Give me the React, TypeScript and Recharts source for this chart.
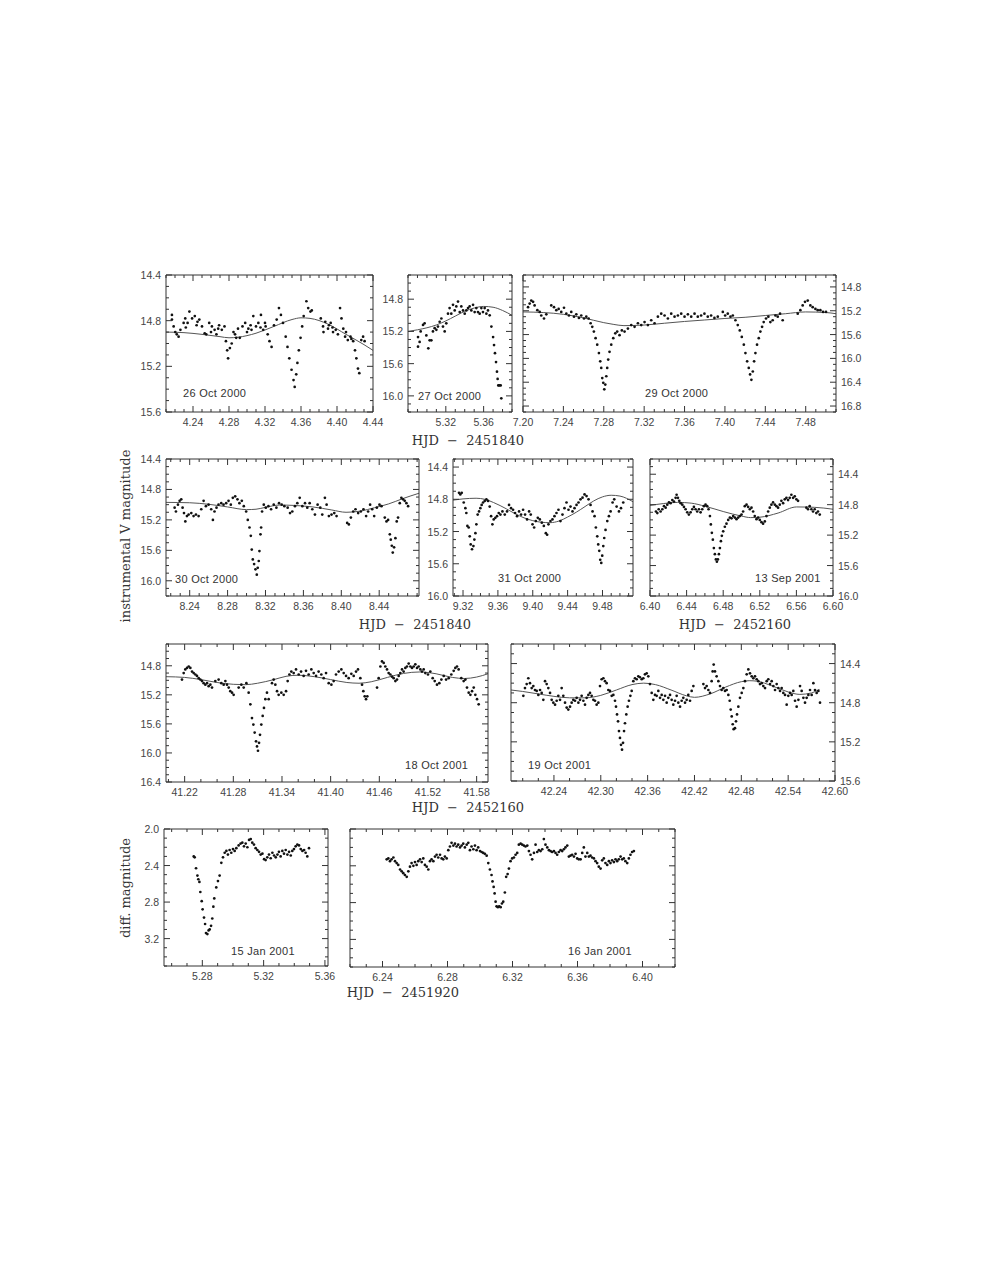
import React from 'react';
import { ComposedChart, Scatter, Line, XAxis, YAxis } from 'recharts';

type Pt = [number, number];

// ---- light curves (HJD offset, magnitude) ----
const oct26Pts: Pt[] = [
  [4.2166, 14.75], [4.2166, 14.79], [4.2185, 14.85], [4.2203, 14.9], [4.222, 14.92], [4.224, 14.94], [4.226, 14.88],
  [4.2296, 14.82], [4.2314, 14.78], [4.232, 14.86], [4.234, 14.82], [4.236, 14.72], [4.239, 14.78], [4.242, 14.76],
  [4.244, 14.84], [4.245, 14.81], [4.247, 14.79], [4.25, 14.85], [4.253, 14.91], [4.2547, 14.92], [4.258, 14.82],
  [4.26, 14.9], [4.261, 14.85], [4.264, 14.88], [4.266, 14.92], [4.268, 14.87], [4.269, 14.84], [4.272, 14.88],
  [4.275, 14.85], [4.2766, 14.98], [4.278, 15.06], [4.279, 15.13], [4.281, 15.04], [4.283, 15.0], [4.285, 14.9],
  [4.2867, 14.92], [4.288, 14.95], [4.29, 14.87], [4.292, 14.95], [4.295, 14.85], [4.298, 14.82], [4.3, 14.9],
  [4.3015, 14.87], [4.304, 14.84], [4.305, 14.88], [4.307, 14.76], [4.31, 14.85], [4.3126, 14.82], [4.315, 14.86],
  [4.3155, 14.75], [4.318, 14.88], [4.32, 14.82], [4.3207, 14.85], [4.323, 14.92], [4.325, 14.98], [4.3273, 15.03],
  [4.33, 14.84], [4.333, 14.79], [4.3355, 14.69], [4.3377, 14.75], [4.34, 14.82], [4.343, 14.94], [4.345, 15.03],
  [4.347, 15.13], [4.3495, 15.23], [4.3517, 15.32], [4.353, 15.38], [4.3547, 15.27], [4.356, 15.17], [4.3576, 15.06],
  [4.3595, 14.95], [4.3613, 14.85], [4.363, 14.76], [4.366, 14.63], [4.368, 14.69], [4.3705, 14.72], [4.372, 14.71],
  [4.382, 14.78], [4.3845, 14.85], [4.385, 14.9], [4.387, 14.81], [4.39, 14.87], [4.391, 14.84], [4.393, 14.82],
  [4.395, 14.86], [4.3956, 14.9], [4.3986, 14.88], [4.401, 14.92], [4.4034, 14.69], [4.405, 14.78], [4.407, 14.87],
  [4.409, 14.94], [4.41, 14.9], [4.412, 14.97], [4.415, 14.94], [4.416, 14.96], [4.418, 14.98], [4.42, 15.06],
  [4.4215, 15.13], [4.4233, 15.22], [4.4248, 15.26], [4.427, 14.97], [4.429, 14.94], [4.4307, 14.98],
];
const oct26Fit: Pt[] = [
  [4.21, 14.9], [4.23, 14.905], [4.25, 14.92], [4.27, 14.94], [4.28, 14.95], [4.29, 14.945], [4.31, 14.91],
  [4.33, 14.85], [4.35, 14.79], [4.36, 14.775], [4.37, 14.78], [4.39, 14.83], [4.41, 14.92], [4.43, 15.01], [4.44, 15.06],
];

const oct27Pts: Pt[] = [
  [5.2906, 15.27], [5.2906, 15.39], [5.2923, 15.33], [5.2934, 15.2], [5.2959, 15.12], [5.2976, 15.1], [5.2994, 15.25],
  [5.3015, 15.41], [5.3029, 15.31], [5.3047, 15.31], [5.3064, 15.2], [5.3082, 15.16], [5.31, 15.18], [5.3117, 15.14],
  [5.3135, 15.08], [5.3153, 15.04], [5.317, 15.14], [5.3188, 15.2], [5.3205, 15.1], [5.3223, 14.98], [5.324, 14.91],
  [5.3258, 14.98], [5.3276, 14.87], [5.3294, 14.94], [5.3311, 14.89], [5.3329, 14.83], [5.3347, 14.96], [5.3364, 14.89],
  [5.3382, 14.94], [5.34, 14.98], [5.3417, 14.94], [5.3435, 14.91], [5.3452, 14.89], [5.347, 14.94], [5.3488, 14.87],
  [5.3505, 14.96], [5.3523, 14.91], [5.354, 14.96], [5.3558, 14.98], [5.3576, 14.91], [5.3593, 14.96], [5.3611, 14.91],
  [5.3629, 14.98], [5.3646, 14.94], [5.3664, 15.0], [5.3682, 15.14], [5.37, 15.27], [5.371, 15.37], [5.372, 15.47],
  [5.3731, 15.58], [5.3741, 15.7], [5.3748, 15.79], [5.3755, 15.87], [5.3766, 15.87], [5.378, 15.87], [5.3787, 16.03],
];
const oct27Fit: Pt[] = [
  [5.28, 15.2], [5.29, 15.18], [5.3, 15.155], [5.31, 15.12], [5.32, 15.07], [5.33, 15.01], [5.34, 14.95],
  [5.35, 14.91], [5.36, 14.89], [5.37, 14.9], [5.38, 14.94], [5.39, 15.0],
];

const oct29Pts: Pt[] = [
  [7.205, 15.14], [7.2066, 15.08], [7.2082, 15.03], [7.21, 15.05], [7.2115, 15.11], [7.2142, 15.19], [7.2165, 15.22],
  [7.2181, 15.28], [7.2208, 15.33], [7.2231, 15.26], [7.228, 15.11], [7.2307, 15.14], [7.233, 15.19], [7.2353, 15.17],
  [7.2379, 15.22], [7.2406, 15.15], [7.2429, 15.25], [7.2455, 15.28], [7.2478, 15.22], [7.2505, 15.3], [7.2528, 15.26],
  [7.2554, 15.32], [7.2577, 15.28], [7.2604, 15.33], [7.2627, 15.3], [7.265, 15.33], [7.267, 15.41], [7.2686, 15.47],
  [7.2702, 15.55], [7.2719, 15.66], [7.2735, 15.77], [7.2752, 15.91], [7.2765, 16.05], [7.2775, 16.16], [7.2785, 16.33],
  [7.2795, 16.41], [7.2805, 16.52], [7.2815, 16.44], [7.2825, 16.3], [7.2834, 16.16], [7.2844, 16.02], [7.2857, 15.89],
  [7.2874, 15.77], [7.2894, 15.66], [7.2914, 15.58], [7.2933, 15.55], [7.2956, 15.61], [7.2979, 15.53], [7.3006, 15.55],
  [7.3039, 15.5], [7.3072, 15.44], [7.3105, 15.47], [7.3138, 15.41], [7.3171, 15.44], [7.3204, 15.39], [7.3237, 15.44],
  [7.327, 15.36], [7.3303, 15.41], [7.3336, 15.3], [7.3369, 15.25], [7.3402, 15.28], [7.3435, 15.33], [7.3468, 15.25],
  [7.3501, 15.3], [7.3534, 15.28], [7.3567, 15.25], [7.36, 15.3], [7.3633, 15.26], [7.3666, 15.3], [7.3699, 15.25],
  [7.3731, 15.3], [7.3764, 15.28], [7.3797, 15.25], [7.383, 15.3], [7.3863, 15.28], [7.3896, 15.32], [7.3929, 15.3],
  [7.3979, 15.22], [7.4002, 15.28], [7.4028, 15.25], [7.4055, 15.3], [7.4078, 15.28], [7.4104, 15.36], [7.4127, 15.44],
  [7.4147, 15.53], [7.4167, 15.64], [7.4187, 15.77], [7.4203, 15.91], [7.422, 16.05], [7.4236, 16.16], [7.4249, 16.27],
  [7.4262, 16.36], [7.4276, 16.22], [7.4289, 16.05], [7.4302, 15.91], [7.4318, 15.77], [7.4335, 15.66], [7.4351, 15.55],
  [7.4368, 15.47], [7.4384, 15.39], [7.4407, 15.33], [7.443, 15.3], [7.445, 15.39], [7.4473, 15.36], [7.45, 15.28],
  [7.4523, 15.3], [7.4546, 15.25], [7.4572, 15.36], [7.4721, 15.25], [7.4747, 15.19], [7.477, 15.11], [7.4793, 15.05],
  [7.482, 15.03], [7.4846, 15.11], [7.4869, 15.14], [7.4896, 15.17], [7.4919, 15.19], [7.4945, 15.19], [7.4972, 15.22],
  [7.5001, 15.22],
];
const oct29Fit: Pt[] = [
  [7.2, 15.22], [7.22, 15.23], [7.24, 15.26], [7.26, 15.32], [7.28, 15.4], [7.29, 15.43], [7.3, 15.45], [7.32, 15.44],
  [7.34, 15.41], [7.36, 15.38], [7.38, 15.355], [7.4, 15.33], [7.42, 15.31], [7.44, 15.28], [7.46, 15.25],
  [7.48, 15.22], [7.5, 15.23], [7.51, 15.25],
];

const oct30Pts: Pt[] = [
  [8.2241, 15.04], [8.2255, 15.09], [8.2276, 15.0], [8.2294, 14.95], [8.2311, 14.93], [8.2325, 15.04], [8.234, 15.11],
  [8.2354, 15.22], [8.2371, 15.15], [8.2389, 15.13], [8.2417, 15.11], [8.2441, 15.15], [8.2466, 15.13], [8.2494, 15.15],
  [8.2522, 15.06], [8.2547, 14.95], [8.2571, 15.02], [8.2599, 15.0], [8.2627, 15.06], [8.2645, 15.2], [8.2662, 15.09],
  [8.2683, 15.04], [8.2704, 15.0], [8.2733, 14.98], [8.2757, 15.0], [8.2785, 14.98], [8.281, 14.95], [8.2834, 15.0],
  [8.2855, 14.91], [8.288, 14.89], [8.2904, 14.93], [8.2925, 14.98], [8.295, 14.95], [8.2971, 15.02], [8.2996, 15.09],
  [8.3013, 15.2], [8.3031, 15.3], [8.3045, 15.41], [8.3055, 15.59], [8.3066, 15.72], [8.308, 15.78], [8.3094, 15.85],
  [8.3108, 15.92], [8.3118, 15.83], [8.3129, 15.74], [8.3136, 15.61], [8.3147, 15.39], [8.3154, 15.3], [8.3164, 15.09],
  [8.3182, 15.0], [8.3203, 15.04], [8.3231, 15.02], [8.3259, 15.06], [8.3287, 15.0], [8.3315, 15.04], [8.3343, 14.98],
  [8.3371, 15.0], [8.3399, 15.02], [8.3434, 15.04], [8.3459, 15.11], [8.3483, 15.09], [8.3511, 15.02], [8.3536, 14.98],
  [8.3561, 14.91], [8.3589, 15.02], [8.3617, 14.98], [8.3641, 15.04], [8.3666, 14.98], [8.3694, 15.06], [8.3722, 15.13],
  [8.375, 15.0], [8.3778, 15.04], [8.3799, 15.13], [8.3827, 14.91], [8.3845, 15.0], [8.3869, 15.15], [8.3897, 15.13],
  [8.3926, 15.11], [8.395, 15.15], [8.4062, 15.24], [8.408, 15.26], [8.4101, 15.17], [8.4126, 15.09], [8.415, 15.06],
  [8.4178, 15.11], [8.4206, 15.09], [8.4234, 15.06], [8.4262, 15.15], [8.4283, 15.09], [8.4304, 15.0], [8.4326, 15.06],
  [8.4347, 15.15], [8.4375, 15.04], [8.4403, 15.0], [8.4424, 15.02], [8.4459, 15.17], [8.4477, 15.22], [8.4494, 15.2],
  [8.4512, 15.39], [8.4522, 15.46], [8.4533, 15.54], [8.4543, 15.63], [8.4557, 15.56], [8.4571, 15.44], [8.4585, 15.22],
  [8.4599, 15.17], [8.4617, 14.98], [8.4634, 14.91], [8.4652, 14.93], [8.4669, 14.95], [8.4687, 14.98], [8.4705, 15.02],
];
const oct30Fit: Pt[] = [
  [8.215, 14.97], [8.24, 14.975], [8.26, 14.995], [8.28, 15.03], [8.3, 15.065], [8.31, 15.06], [8.32, 15.035],
  [8.335, 15.005], [8.35, 15.01], [8.37, 15.03], [8.39, 15.07], [8.405, 15.1], [8.42, 15.085], [8.435, 15.04],
  [8.45, 14.99], [8.465, 14.92], [8.482, 14.85],
];

const oct31Pts: Pt[] = [
  [9.3154, 14.72], [9.3169, 14.74], [9.3185, 14.72], [9.3208, 14.84], [9.3227, 14.91], [9.3238, 14.97], [9.325, 15.13],
  [9.3265, 15.15], [9.3277, 15.26], [9.3288, 15.36], [9.3303, 15.42], [9.3319, 15.38], [9.333, 15.3], [9.3342, 15.22],
  [9.3353, 15.11], [9.3368, 14.99], [9.3384, 14.95], [9.3399, 14.91], [9.3414, 14.87], [9.343, 14.84], [9.3449, 14.82],
  [9.3468, 14.8], [9.3487, 14.82], [9.3506, 14.89], [9.3522, 15.01], [9.3537, 15.11], [9.3552, 15.05], [9.3571, 15.03],
  [9.359, 15.01], [9.361, 14.97], [9.3629, 14.99], [9.3652, 14.95], [9.3679, 14.99], [9.3705, 14.95], [9.3728, 14.87],
  [9.3751, 14.91], [9.3774, 14.93], [9.3797, 14.97], [9.382, 15.01], [9.3843, 14.95], [9.3866, 14.99], [9.3889, 14.93],
  [9.3912, 14.99], [9.3935, 15.05], [9.3958, 14.95], [9.3977, 14.99], [9.3997, 15.11], [9.4016, 15.15], [9.4035, 15.07],
  [9.4058, 15.03], [9.4081, 15.05], [9.4104, 15.09], [9.4127, 15.13], [9.415, 15.22], [9.4165, 15.24], [9.418, 15.11],
  [9.4203, 15.07], [9.4226, 15.05], [9.4249, 15.01], [9.4272, 14.97], [9.4295, 14.93], [9.4318, 15.07], [9.4341, 14.99],
  [9.4364, 14.91], [9.4387, 14.84], [9.441, 14.93], [9.4433, 14.89], [9.4456, 14.95], [9.4479, 14.91], [9.4502, 14.87],
  [9.4525, 14.84], [9.4548, 14.8], [9.4571, 14.78], [9.4594, 14.74], [9.4617, 14.76], [9.464, 14.8], [9.4663, 14.87],
  [9.4686, 14.95], [9.4709, 15.01], [9.4724, 15.15], [9.474, 15.26], [9.4751, 15.36], [9.4763, 15.44], [9.4774, 15.55],
  [9.4786, 15.59], [9.4797, 15.5], [9.4809, 15.38], [9.482, 15.28], [9.4835, 15.18], [9.4855, 15.07], [9.4874, 15.01],
  [9.4893, 14.95], [9.4916, 14.84], [9.4935, 14.8], [9.4962, 14.89], [9.4989, 14.95], [9.5012, 14.91], [9.5038, 14.84],
];
const oct31Fit: Pt[] = [
  [9.3085, 14.81], [9.32, 14.795], [9.335, 14.787], [9.345, 14.8], [9.355, 14.84], [9.37, 14.92], [9.38, 14.98],
  [9.39, 15.03], [9.4, 15.065], [9.41, 15.085], [9.42, 15.09], [9.43, 15.07], [9.44, 15.02], [9.45, 14.96],
  [9.46, 14.89], [9.47, 14.82], [9.48, 14.77], [9.49, 14.75], [9.5, 14.76], [9.515, 14.83],
];

const sep13Pts: Pt[] = [
  [6.4065, 14.89], [6.408, 14.91], [6.4095, 14.86], [6.4116, 14.89], [6.4135, 14.86], [6.4153, 14.82], [6.4171, 14.84],
  [6.4189, 14.8], [6.4207, 14.77], [6.4225, 14.78], [6.4244, 14.74], [6.4262, 14.76], [6.428, 14.71], [6.4291, 14.67],
  [6.4305, 14.71], [6.432, 14.75], [6.4335, 14.78], [6.4353, 14.8], [6.4371, 14.83], [6.4389, 14.86], [6.4407, 14.9],
  [6.4425, 14.93], [6.4444, 14.9], [6.4462, 14.86], [6.448, 14.83], [6.4498, 14.86], [6.4516, 14.89], [6.4535, 14.86],
  [6.4553, 14.9], [6.4571, 14.86], [6.4589, 14.82], [6.4607, 14.8], [6.4625, 14.82], [6.464, 14.86], [6.4655, 14.95],
  [6.4665, 15.06], [6.4676, 15.17], [6.4687, 15.26], [6.4698, 15.37], [6.4709, 15.45], [6.472, 15.52], [6.4731, 15.55],
  [6.4742, 15.52], [6.4753, 15.45], [6.4764, 15.37], [6.4775, 15.28], [6.4785, 15.21], [6.48, 15.15], [6.4818, 15.09],
  [6.4836, 15.05], [6.4855, 15.0], [6.4873, 14.97], [6.4891, 14.98], [6.4909, 14.95], [6.4927, 14.97], [6.4945, 14.99],
  [6.4964, 14.97], [6.4982, 14.95], [6.5, 14.93], [6.5018, 14.89], [6.5036, 14.82], [6.5055, 14.8], [6.5073, 14.83],
  [6.5091, 14.86], [6.5109, 14.84], [6.5127, 14.89], [6.5145, 14.95], [6.5164, 14.99], [6.5182, 14.97], [6.52, 15.0],
  [6.5218, 15.03], [6.5236, 15.05], [6.5255, 15.02], [6.5273, 14.95], [6.5291, 14.89], [6.5309, 14.84], [6.5327, 14.8],
  [6.5345, 14.77], [6.5364, 14.8], [6.5382, 14.82], [6.54, 14.84], [6.5418, 14.8], [6.5436, 14.75], [6.5455, 14.78],
  [6.5473, 14.73], [6.5491, 14.71], [6.5509, 14.74], [6.5527, 14.71], [6.5545, 14.67], [6.5564, 14.71], [6.5582, 14.69],
  [6.56, 14.73], [6.5618, 14.75], [6.5709, 14.84], [6.5727, 14.86], [6.5745, 14.82], [6.5764, 14.86], [6.5782, 14.89],
  [6.58, 14.86], [6.5818, 14.91], [6.5836, 14.89], [6.5855, 14.93],
];
const sep13Fit: Pt[] = [
  [6.4, 14.81], [6.415, 14.785], [6.43, 14.77], [6.445, 14.78], [6.46, 14.82], [6.48, 14.89], [6.5, 14.95],
  [6.51, 14.97], [6.52, 14.965], [6.54, 14.91], [6.56, 14.83], [6.58, 14.835], [6.6, 14.86],
];

const oct18Pts: Pt[] = [
  [41.2167, 14.99], [41.2188, 14.9], [41.2208, 14.85], [41.2229, 14.83], [41.225, 14.81], [41.227, 14.83], [41.2291, 14.88],
  [41.2311, 14.9], [41.2332, 14.92], [41.2352, 14.94], [41.2373, 14.97], [41.2393, 14.99], [41.2414, 15.01], [41.2434, 15.04],
  [41.2455, 15.06], [41.2476, 15.04], [41.2496, 15.08], [41.2517, 15.06], [41.2537, 15.1], [41.2578, 15.01], [41.2619, 14.99],
  [41.2652, 15.04], [41.2681, 15.06], [41.2702, 15.01], [41.2722, 15.06], [41.2743, 15.1], [41.2763, 15.15], [41.2784, 15.17],
  [41.2804, 15.2], [41.2866, 15.1], [41.2899, 15.06], [41.2928, 15.1], [41.2961, 15.04], [41.2989, 15.17], [41.301, 15.33],
  [41.303, 15.52], [41.3047, 15.61], [41.3063, 15.72], [41.308, 15.84], [41.3092, 15.91], [41.3104, 15.97], [41.3117, 15.86],
  [41.3129, 15.75], [41.3145, 15.61], [41.3162, 15.49], [41.3178, 15.38], [41.3195, 15.26], [41.3215, 15.17], [41.3236, 15.26],
  [41.3277, 15.04], [41.3298, 14.99], [41.3318, 15.06], [41.3339, 15.15], [41.3359, 15.2], [41.3392, 15.17], [41.3421, 15.2],
  [41.345, 15.15], [41.347, 15.01], [41.3491, 14.92], [41.3515, 14.88], [41.3544, 14.9], [41.3573, 14.85], [41.3606, 14.92],
  [41.3635, 14.88], [41.3667, 14.94], [41.3696, 14.87], [41.3729, 14.92], [41.3762, 14.85], [41.3791, 14.9], [41.382, 14.94],
  [41.3852, 14.88], [41.3885, 14.92], [41.3914, 14.97], [41.3943, 14.9], [41.3976, 15.04], [41.4009, 15.06], [41.4037, 15.01],
  [41.4066, 14.92], [41.4099, 14.88], [41.4132, 14.85], [41.4161, 14.9], [41.419, 14.94], [41.4222, 14.97], [41.4255, 14.91],
  [41.4284, 14.94], [41.4313, 14.88], [41.4337, 14.85], [41.4366, 14.97], [41.4387, 15.06], [41.4403, 15.15], [41.442, 15.22],
  [41.4436, 15.26], [41.4452, 15.22], [41.4572, 15.1], [41.4592, 14.97], [41.4613, 14.81], [41.4633, 14.74], [41.4654, 14.76],
  [41.4674, 14.81], [41.4695, 14.85], [41.4715, 14.9], [41.4736, 14.92], [41.4757, 14.95], [41.4777, 14.97], [41.4798, 15.01],
  [41.4818, 14.99], [41.4839, 14.94], [41.4859, 14.9], [41.488, 14.85], [41.49, 14.88], [41.4921, 14.83], [41.4941, 14.81],
  [41.4962, 14.77], [41.4983, 14.81], [41.5003, 14.83], [41.5024, 14.81], [41.5044, 14.78], [41.5065, 14.83], [41.5085, 14.81],
  [41.5106, 14.85], [41.5126, 14.88], [41.5147, 14.85], [41.5167, 14.9], [41.52, 14.92], [41.5229, 14.88], [41.5258, 14.97],
  [41.5283, 15.01], [41.5311, 15.06], [41.534, 15.04], [41.5365, 14.99], [41.5394, 14.94], [41.5423, 14.99], [41.5455, 14.97],
  [41.5488, 14.92], [41.5517, 14.87], [41.5537, 14.83], [41.5558, 14.81], [41.5578, 14.85], [41.5611, 14.97], [41.564, 15.01],
  [41.5661, 14.99], [41.5681, 15.1], [41.5702, 15.17], [41.5723, 15.2], [41.5743, 15.15], [41.5764, 15.1], [41.5784, 15.2],
  [41.5805, 15.26], [41.5825, 15.33],
];
const oct18Fit: Pt[] = [
  [41.197, 14.95], [41.22, 14.96], [41.24, 14.99], [41.26, 15.03], [41.28, 15.055], [41.295, 15.06], [41.31, 15.04],
  [41.33, 14.99], [41.345, 14.945], [41.36, 14.93], [41.38, 14.95], [41.4, 14.99], [41.42, 15.03], [41.435, 15.04],
  [41.45, 15.02], [41.47, 14.96], [41.49, 14.905], [41.51, 14.885], [41.53, 14.91], [41.55, 14.96], [41.565, 14.975],
  [41.58, 14.955], [41.594, 14.91],
];

const oct19Pts: Pt[] = [
  [42.2008, 14.73], [42.2029, 14.65], [42.2051, 14.61], [42.2072, 14.55], [42.2093, 14.6], [42.2115, 14.65], [42.2136, 14.63],
  [42.2157, 14.67], [42.2179, 14.68], [42.22, 14.72], [42.2222, 14.67], [42.2243, 14.7], [42.2264, 14.77], [42.2286, 14.58],
  [42.2307, 14.61], [42.2328, 14.65], [42.235, 14.7], [42.2371, 14.77], [42.2392, 14.8], [42.2414, 14.82], [42.2435, 14.78],
  [42.2456, 14.73], [42.2478, 14.77], [42.2499, 14.65], [42.252, 14.73], [42.2542, 14.8], [42.2563, 14.85], [42.2584, 14.87],
  [42.2606, 14.84], [42.2627, 14.8], [42.2648, 14.77], [42.267, 14.78], [42.2691, 14.75], [42.2713, 14.8], [42.2734, 14.77],
  [42.2755, 14.73], [42.2777, 14.78], [42.2798, 14.82], [42.2819, 14.75], [42.2841, 14.72], [42.2862, 14.7], [42.2883, 14.73],
  [42.2905, 14.77], [42.2926, 14.78], [42.2947, 14.82], [42.2969, 14.8], [42.299, 14.63], [42.3011, 14.56], [42.3033, 14.55],
  [42.3054, 14.58], [42.3075, 14.6], [42.3097, 14.67], [42.3118, 14.68], [42.314, 14.73], [42.3161, 14.72], [42.3182, 14.78],
  [42.3195, 14.84], [42.3208, 14.92], [42.3221, 14.99], [42.3233, 15.09], [42.3246, 15.16], [42.3259, 15.23], [42.3272, 15.28],
  [42.3285, 15.21], [42.3298, 15.09], [42.331, 15.01], [42.3327, 14.92], [42.3344, 14.84], [42.3361, 14.78], [42.3379, 14.73],
  [42.3396, 14.68], [42.3417, 14.58], [42.3438, 14.55], [42.346, 14.56], [42.3481, 14.53], [42.3502, 14.54], [42.3524, 14.56],
  [42.3545, 14.55], [42.3566, 14.51], [42.3588, 14.5], [42.3609, 14.53], [42.363, 14.61], [42.3652, 14.7], [42.3673, 14.77],
  [42.3694, 14.72], [42.3716, 14.73], [42.3737, 14.68], [42.3759, 14.75], [42.378, 14.72], [42.3801, 14.77], [42.3823, 14.73],
  [42.3844, 14.8], [42.3865, 14.75], [42.3887, 14.72], [42.3908, 14.77], [42.3929, 14.82], [42.3951, 14.78], [42.3972, 14.73],
  [42.3993, 14.8], [42.4015, 14.84], [42.4036, 14.78], [42.4057, 14.75], [42.4079, 14.8], [42.41, 14.77], [42.4121, 14.72],
  [42.4143, 14.78], [42.4164, 14.68], [42.4186, 14.63], [42.4314, 14.61], [42.4335, 14.65], [42.4356, 14.63], [42.4378, 14.67],
  [42.4399, 14.7], [42.442, 14.58], [42.4433, 14.48], [42.4446, 14.41], [42.4463, 14.48], [42.4484, 14.53], [42.4506, 14.58],
  [42.4527, 14.63], [42.4548, 14.67], [42.457, 14.65], [42.4591, 14.68], [42.4612, 14.67], [42.4634, 14.72], [42.4651, 14.78],
  [42.4664, 14.87], [42.4677, 14.94], [42.469, 15.02], [42.4702, 15.07], [42.4719, 15.06], [42.4732, 14.99], [42.4745, 14.92],
  [42.4762, 14.84], [42.4783, 14.75], [42.4805, 14.7], [42.4826, 14.65], [42.4847, 14.58], [42.4869, 14.51], [42.489, 14.46],
  [42.4911, 14.5], [42.4933, 14.53], [42.4954, 14.55], [42.4975, 14.53], [42.4997, 14.56], [42.5018, 14.58], [42.5039, 14.61],
  [42.5061, 14.6], [42.5082, 14.63], [42.5104, 14.65], [42.5125, 14.58], [42.5146, 14.56], [42.5168, 14.61], [42.5189, 14.58],
  [42.521, 14.63], [42.5232, 14.67], [42.5253, 14.61], [42.5274, 14.65], [42.5296, 14.68], [42.5317, 14.65], [42.5338, 14.7],
  [42.536, 14.72], [42.5381, 14.82], [42.5402, 14.73], [42.5424, 14.7], [42.5445, 14.72], [42.5466, 14.68], [42.5488, 14.78],
  [42.5509, 14.84], [42.5531, 14.77], [42.5552, 14.63], [42.5573, 14.68], [42.5595, 14.75], [42.5616, 14.8], [42.5637, 14.75],
  [42.5659, 14.72], [42.568, 14.67], [42.5701, 14.72], [42.5723, 14.6], [42.5744, 14.67], [42.5765, 14.7], [42.5787, 14.68],
  [42.5808, 14.8],
];
const oct19Fit: Pt[] = [
  [42.185, 14.67], [42.2, 14.685], [42.22, 14.71], [42.24, 14.735], [42.26, 14.75], [42.28, 14.75], [42.3, 14.725],
  [42.32, 14.67], [42.34, 14.615], [42.355, 14.6], [42.37, 14.615], [42.39, 14.67], [42.41, 14.73], [42.42, 14.745],
  [42.44, 14.71], [42.46, 14.64], [42.48, 14.585], [42.49, 14.575], [42.5, 14.58], [42.52, 14.63], [42.54, 14.69],
  [42.555, 14.715], [42.57, 14.7], [42.58, 14.665],
];

const jan15Pts: Pt[] = [
  [5.2744, 2.3], [5.275, 2.31], [5.2759, 2.43], [5.2768, 2.51], [5.2774, 2.55], [5.2781, 2.58], [5.2787, 2.69], [5.2796, 2.79],
  [5.2802, 2.88], [5.2811, 2.97], [5.2818, 3.04], [5.2824, 3.14], [5.2833, 3.15], [5.2841, 3.11], [5.2848, 3.1], [5.2857, 3.06],
  [5.2865, 2.98], [5.2872, 2.85], [5.2878, 2.76], [5.2891, 2.64], [5.2902, 2.57], [5.2913, 2.51], [5.2924, 2.37], [5.2935, 2.31],
  [5.2946, 2.26], [5.2957, 2.24], [5.2967, 2.28], [5.2978, 2.23], [5.2989, 2.26], [5.3, 2.22], [5.3011, 2.24], [5.3022, 2.21],
  [5.3037, 2.18], [5.305, 2.16], [5.3061, 2.15], [5.3072, 2.19], [5.3083, 2.16], [5.3094, 2.2], [5.3105, 2.12], [5.3116, 2.11],
  [5.3126, 2.15], [5.3137, 2.17], [5.3148, 2.21], [5.3159, 2.23], [5.317, 2.25], [5.3181, 2.28], [5.3192, 2.27], [5.3203, 2.33],
  [5.3213, 2.34], [5.3224, 2.31], [5.3235, 2.28], [5.3246, 2.32], [5.3257, 2.26], [5.3268, 2.29], [5.3279, 2.31], [5.329, 2.28],
  [5.33, 2.25], [5.3311, 2.3], [5.3322, 2.24], [5.3333, 2.27], [5.3344, 2.23], [5.3355, 2.28], [5.3366, 2.25], [5.3377, 2.29],
  [5.3387, 2.24], [5.3398, 2.22], [5.3409, 2.19], [5.342, 2.17], [5.3431, 2.18], [5.3442, 2.22], [5.3453, 2.24], [5.3464, 2.23],
  [5.3474, 2.26], [5.3485, 2.3], [5.3496, 2.21],
];

const jan16Pts: Pt[] = [
  [6.2426, 2.33], [6.2436, 2.32], [6.2446, 2.35], [6.2456, 2.33], [6.2467, 2.31], [6.2477, 2.35], [6.2487, 2.37], [6.2497, 2.39],
  [6.2508, 2.44], [6.2518, 2.46], [6.2528, 2.48], [6.2538, 2.5], [6.2549, 2.52], [6.2559, 2.46], [6.2569, 2.41], [6.2579, 2.37],
  [6.259, 2.4], [6.26, 2.36], [6.261, 2.39], [6.262, 2.35], [6.2631, 2.33], [6.2641, 2.36], [6.2651, 2.32], [6.2661, 2.39],
  [6.2672, 2.41], [6.2682, 2.44], [6.2692, 2.35], [6.2702, 2.33], [6.2713, 2.35], [6.2723, 2.3], [6.2733, 2.28], [6.2743, 2.31],
  [6.2754, 2.28], [6.2764, 2.32], [6.2774, 2.33], [6.2784, 2.3], [6.2795, 2.32], [6.2805, 2.23], [6.2815, 2.19], [6.2825, 2.15],
  [6.2836, 2.18], [6.2846, 2.16], [6.2856, 2.19], [6.2866, 2.17], [6.2877, 2.2], [6.2887, 2.18], [6.2897, 2.16], [6.2907, 2.2],
  [6.2918, 2.17], [6.2928, 2.15], [6.2938, 2.23], [6.2948, 2.19], [6.2959, 2.22], [6.2969, 2.18], [6.2979, 2.23], [6.2989, 2.2],
  [6.3, 2.24], [6.301, 2.25], [6.302, 2.26], [6.303, 2.27], [6.3041, 2.29], [6.3051, 2.37], [6.3061, 2.44], [6.3071, 2.5],
  [6.3077, 2.57], [6.3084, 2.63], [6.309, 2.7], [6.3096, 2.79], [6.3102, 2.84], [6.311, 2.85], [6.3118, 2.84], [6.3127, 2.85],
  [6.3135, 2.81], [6.3143, 2.79], [6.3153, 2.69], [6.3161, 2.52], [6.317, 2.49], [6.3178, 2.43], [6.3188, 2.35], [6.3198, 2.32],
  [6.3209, 2.31], [6.3219, 2.28], [6.3229, 2.26], [6.3239, 2.17], [6.325, 2.16], [6.326, 2.17], [6.327, 2.18], [6.328, 2.19],
  [6.3291, 2.18], [6.3301, 2.24], [6.3311, 2.28], [6.3321, 2.33], [6.3332, 2.26], [6.3342, 2.17], [6.3352, 2.25], [6.3362, 2.23],
  [6.3373, 2.24], [6.3383, 2.22], [6.3393, 2.11], [6.3403, 2.17], [6.3414, 2.2], [6.3424, 2.23], [6.3434, 2.24], [6.3444, 2.25],
  [6.3455, 2.24], [6.3465, 2.26], [6.3475, 2.28], [6.3485, 2.25], [6.3496, 2.23], [6.3506, 2.24], [6.3516, 2.22], [6.3526, 2.2],
  [6.3537, 2.18], [6.3547, 2.3], [6.3557, 2.29], [6.3567, 2.28], [6.3578, 2.3], [6.3588, 2.27], [6.3598, 2.32], [6.3608, 2.33],
  [6.3619, 2.33], [6.3629, 2.26], [6.3639, 2.2], [6.3649, 2.3], [6.366, 2.26], [6.367, 2.3], [6.368, 2.29], [6.369, 2.31],
  [6.3701, 2.32], [6.3711, 2.35], [6.3721, 2.37], [6.3731, 2.41], [6.3742, 2.43], [6.3752, 2.34], [6.3762, 2.32], [6.3772, 2.37],
  [6.3783, 2.39], [6.3793, 2.35], [6.3803, 2.37], [6.3813, 2.34], [6.3824, 2.36], [6.3834, 2.33], [6.3844, 2.35], [6.3854, 2.33],
  [6.3865, 2.3], [6.3875, 2.33], [6.3885, 2.32], [6.3895, 2.35], [6.3906, 2.37], [6.3916, 2.32], [6.3926, 2.28], [6.3936, 2.25],
  [6.3947, 2.24],
];

// ---- tick labels ----
const ticksX26 = [4.24, 4.28, 4.32, 4.36, 4.4, 4.44];
const ticksX27 = [5.32, 5.36];
const ticksX29 = [7.2, 7.24, 7.28, 7.32, 7.36, 7.4, 7.44, 7.48];
const ticksX30 = [8.24, 8.28, 8.32, 8.36, 8.4, 8.44];
const ticksX31 = [9.32, 9.36, 9.4, 9.44, 9.48];
const ticksXSep13 = [6.4, 6.44, 6.48, 6.52, 6.56, 6.6];
const ticksX18 = [41.22, 41.28, 41.34, 41.4, 41.46, 41.52, 41.58];
const ticksX19 = [42.24, 42.3, 42.36, 42.42, 42.48, 42.54, 42.6];
const ticksXJ15 = [5.28, 5.32, 5.36];
const ticksXJ16 = [6.24, 6.28, 6.32, 6.36, 6.4];
const ticksYA = [14.4, 14.8, 15.2, 15.6];
const ticksYB = [14.8, 15.2, 15.6, 16.0];
const ticksYC = [14.8, 15.2, 15.6, 16.0, 16.4, 16.8];
const ticksYRow2 = [14.4, 14.8, 15.2, 15.6, 16.0];
const ticksYG = [14.8, 15.2, 15.6, 16.0, 16.4];
const ticksYH = [14.4, 14.8, 15.2, 15.6];
const ticksYDiff = [2.0, 2.4, 2.8, 3.2];

const FRAME = '#333';
const SANS = '"Liberation Sans", Arial, sans-serif';
const SERIF = '"DejaVu Serif", "Liberation Serif", serif';

interface PanelDef {
  id: string;
  box: [number, number, number, number];
  xDomain: [number, number];
  yDomain: [number, number];
  xMajor: number[];
  xStep: number;
  yMajor: number[];
  yLabels: 'left' | 'right' | 'none';
  pts: Pt[];
  fit?: Pt[];
  date: string;
  datePos: [number, number];
}

const panels: PanelDef[] = [
  { id: 'a', box: [166, 275, 207, 137], xDomain: [4.21, 4.44], yDomain: [14.4, 15.6], xMajor: ticksX26, xStep: 0.01,
    yMajor: ticksYA, yLabels: 'left', pts: oct26Pts, fit: oct26Fit, date: '26 Oct 2000', datePos: [17, 118] },
  { id: 'b', box: [408, 275, 104, 137], xDomain: [5.28, 5.39], yDomain: [14.5, 16.2], xMajor: ticksX27, xStep: 0.01,
    yMajor: ticksYB, yLabels: 'left', pts: oct27Pts, fit: oct27Fit, date: '27 Oct 2000', datePos: [10, 121] },
  { id: 'c', box: [523, 275, 313, 137], xDomain: [7.2, 7.51], yDomain: [14.6, 16.9], xMajor: ticksX29, xStep: 0.01,
    yMajor: ticksYC, yLabels: 'right', pts: oct29Pts, fit: oct29Fit, date: '29 Oct 2000', datePos: [122, 118] },
  { id: 'd', box: [166, 459, 253, 137], xDomain: [8.215, 8.482], yDomain: [14.4, 16.2], xMajor: ticksX30, xStep: 0.01,
    yMajor: ticksYRow2, yLabels: 'left', pts: oct30Pts, fit: oct30Fit, date: '30 Oct 2000', datePos: [9, 120] },
  { id: 'e', box: [453, 459, 180, 137], xDomain: [9.3085, 9.515], yDomain: [14.3, 16.0], xMajor: ticksX31, xStep: 0.01,
    yMajor: ticksYRow2, yLabels: 'left', pts: oct31Pts, fit: oct31Fit, date: '31 Oct 2000', datePos: [45, 119] },
  { id: 'f', box: [650, 459, 183, 137], xDomain: [6.4, 6.6], yDomain: [14.2, 16.0], xMajor: ticksXSep13, xStep: 0.01,
    yMajor: ticksYRow2, yLabels: 'right', pts: sep13Pts, fit: sep13Fit, date: '13 Sep 2001', datePos: [105, 119] },
  { id: 'g', box: [166, 644, 322, 138], xDomain: [41.197, 41.594], yDomain: [14.5, 16.4], xMajor: ticksX18, xStep: 0.02,
    yMajor: ticksYG, yLabels: 'left', pts: oct18Pts, fit: oct18Fit, date: '18 Oct 2001', datePos: [239, 121] },
  { id: 'h', box: [511, 644, 324, 137], xDomain: [42.185, 42.6], yDomain: [14.2, 15.6], xMajor: ticksX19, xStep: 0.02,
    yMajor: ticksYH, yLabels: 'right', pts: oct19Pts, fit: oct19Fit, date: '19 Oct 2001', datePos: [17, 121] },
  { id: 'i', box: [164, 829, 164, 137], xDomain: [5.255, 5.362], yDomain: [2.0, 3.5], xMajor: ticksXJ15, xStep: 0.01,
    yMajor: ticksYDiff, yLabels: 'left', pts: jan15Pts, date: '15 Jan 2001', datePos: [67, 122] },
  { id: 'j', box: [350, 829, 325, 138], xDomain: [6.22, 6.42], yDomain: [2.0, 3.5], xMajor: ticksXJ16, xStep: 0.01,
    yMajor: ticksYDiff, yLabels: 'none', pts: jan16Pts, date: '16 Jan 2001', datePos: [218, 122] },
];

function stepTicks(lo: number, hi: number, step: number): number[] {
  const out: number[] = [];
  const a = Math.ceil(lo / step - 1e-6);
  const b = Math.floor(hi / step + 1e-6);
  for (let i = a; i <= b; i++) out.push(+(i * step).toFixed(4));
  return out;
}

const isMajor = (v: number, majors: number[]) => majors.some((m) => Math.abs(m - v) < 1e-6);

function makeTick(side: 'bottom' | 'top' | 'left' | 'right', majors: number[], labelled: boolean, digits: number) {
  return (props: any) => {
    const { x, y, payload } = props;
    const v = payload.value as number;
    const major = isMajor(v, majors);
    const len = major ? 6 : 3;
    const txt = labelled && major ? v.toFixed(digits) : null;
    const textStyle = { fontFamily: SANS, fontSize: 10.5, fill: '#444' };
    if (side === 'bottom') {
      return (
        <g>
          <line x1={x} x2={x} y1={y} y2={y - len} stroke={FRAME} />
          {txt && <text x={x} y={y + 14} textAnchor="middle" style={textStyle}>{txt}</text>}
        </g>
      );
    }
    if (side === 'top') {
      return <line x1={x} x2={x} y1={y} y2={y + len} stroke={FRAME} />;
    }
    if (side === 'left') {
      return (
        <g>
          <line x1={x} x2={x + len} y1={y} y2={y} stroke={FRAME} />
          {txt && <text x={x - 5} y={y + 4} textAnchor="end" style={textStyle}>{txt}</text>}
        </g>
      );
    }
    return (
      <g>
        <line x1={x} x2={x - len} y1={y} y2={y} stroke={FRAME} />
        {txt && <text x={x + 5} y={y + 4} textAnchor="start" style={textStyle}>{txt}</text>}
      </g>
    );
  };
}

const Dot = (p: any) => <circle cx={p.cx} cy={p.cy} r={1.35} fill="#111" />;

function Panel({ def }: { def: PanelDef }) {
  const [L, T, W, H] = def.box;
  const mL = 40, mR = 40, mT = 10, mB = 30;
  const xTicks = stepTicks(def.xDomain[0], def.xDomain[1], def.xStep);
  const yTicks = stepTicks(def.yDomain[0], def.yDomain[1], 0.1);
  const ptData = def.pts.map(([x, y]) => ({ x, y }));
  const fitData = def.fit ? def.fit.map(([x, y]) => ({ x, y })) : null;
  const axisLine = { stroke: FRAME, strokeWidth: 1 };
  return (
    <div style={{ position: 'absolute', left: L - mL, top: T - mT, width: W + mL + mR, height: H + mT + mB }}>
      <ComposedChart width={W + mL + mR} height={H + mT + mB} margin={{ top: 0, right: 0, bottom: 0, left: 0 }}>
        <XAxis xAxisId="b" orientation="bottom" type="number" dataKey="x" domain={def.xDomain} allowDataOverflow
          ticks={xTicks} interval={0} height={mB} tickSize={0} tickMargin={0} tickLine={false} axisLine={axisLine}
          tick={makeTick('bottom', def.xMajor, true, 2)} />
        <XAxis xAxisId="t" orientation="top" type="number" dataKey="x" domain={def.xDomain} allowDataOverflow
          ticks={xTicks} interval={0} height={mT} tickSize={0} tickMargin={0} tickLine={false} axisLine={axisLine}
          tick={makeTick('top', def.xMajor, false, 2)} />
        <YAxis yAxisId="l" orientation="left" type="number" dataKey="y" domain={def.yDomain} allowDataOverflow reversed
          ticks={yTicks} interval={0} width={mL} tickSize={0} tickMargin={0} tickLine={false} axisLine={axisLine}
          tick={makeTick('left', def.yMajor, def.yLabels === 'left', 1)} />
        <YAxis yAxisId="r" orientation="right" type="number" dataKey="y" domain={def.yDomain} allowDataOverflow reversed
          ticks={yTicks} interval={0} width={mR} tickSize={0} tickMargin={0} tickLine={false} axisLine={axisLine}
          tick={makeTick('right', def.yMajor, def.yLabels === 'right', 1)} />
        {fitData && (
          <Line xAxisId="b" yAxisId="l" data={fitData} dataKey="y" type="monotone" stroke="#555" strokeWidth={1}
            dot={false} activeDot={false} isAnimationActive={false} />
        )}
        <Scatter xAxisId="b" yAxisId="l" data={ptData} dataKey="y" shape={Dot} isAnimationActive={false} />
      </ComposedChart>
      <div style={{ position: 'absolute', left: mL + def.datePos[0], top: mT + def.datePos[1] - 7, fontFamily: SANS,
        fontSize: 11, lineHeight: '14px', color: '#333', whiteSpace: 'nowrap', letterSpacing: 0.3 }}>
        {def.date}
      </div>
    </div>
  );
}

const xTitles: { text: string; cx: number; cy: number }[] = [
  { text: 'HJD \u2212 2451840', cx: 468, cy: 441 },
  { text: 'HJD \u2212 2451840', cx: 415, cy: 625 },
  { text: 'HJD \u2212 2452160', cx: 735, cy: 625 },
  { text: 'HJD \u2212 2452160', cx: 468, cy: 808 },
  { text: 'HJD \u2212 2451920', cx: 403, cy: 993 },
];

const yTitles: { text: string; cx: number; cy: number }[] = [
  { text: 'instrumental V magnitude', cx: 126, cy: 536 },
  { text: 'diff. magnitude', cx: 126, cy: 888 },
];

export default function App() {
  return (
    <div style={{ position: 'absolute', left: 0, top: 0, width: 981, height: 1269, background: '#fff', overflow: 'hidden' }}>
      {panels.map((p) => <Panel key={p.id} def={p} />)}
      {xTitles.map((t, i) => (
        <div key={'x' + i} style={{ position: 'absolute', left: t.cx - 100, top: t.cy - 9, width: 200, textAlign: 'center',
          fontFamily: SERIF, fontSize: 13, lineHeight: '18px', color: '#333', whiteSpace: 'pre' }}>
          {t.text.replace(' \u2212 ', '  \u2212  ')}
        </div>
      ))}
      {yTitles.map((t, i) => (
        <div key={'y' + i} style={{ position: 'absolute', left: t.cx - 100, top: t.cy - 9, width: 200, textAlign: 'center',
          fontFamily: SERIF, fontSize: 13, lineHeight: '18px', color: '#333', transform: 'rotate(-90deg)', whiteSpace: 'nowrap' }}>
          {t.text}
        </div>
      ))}
    </div>
  );
}
